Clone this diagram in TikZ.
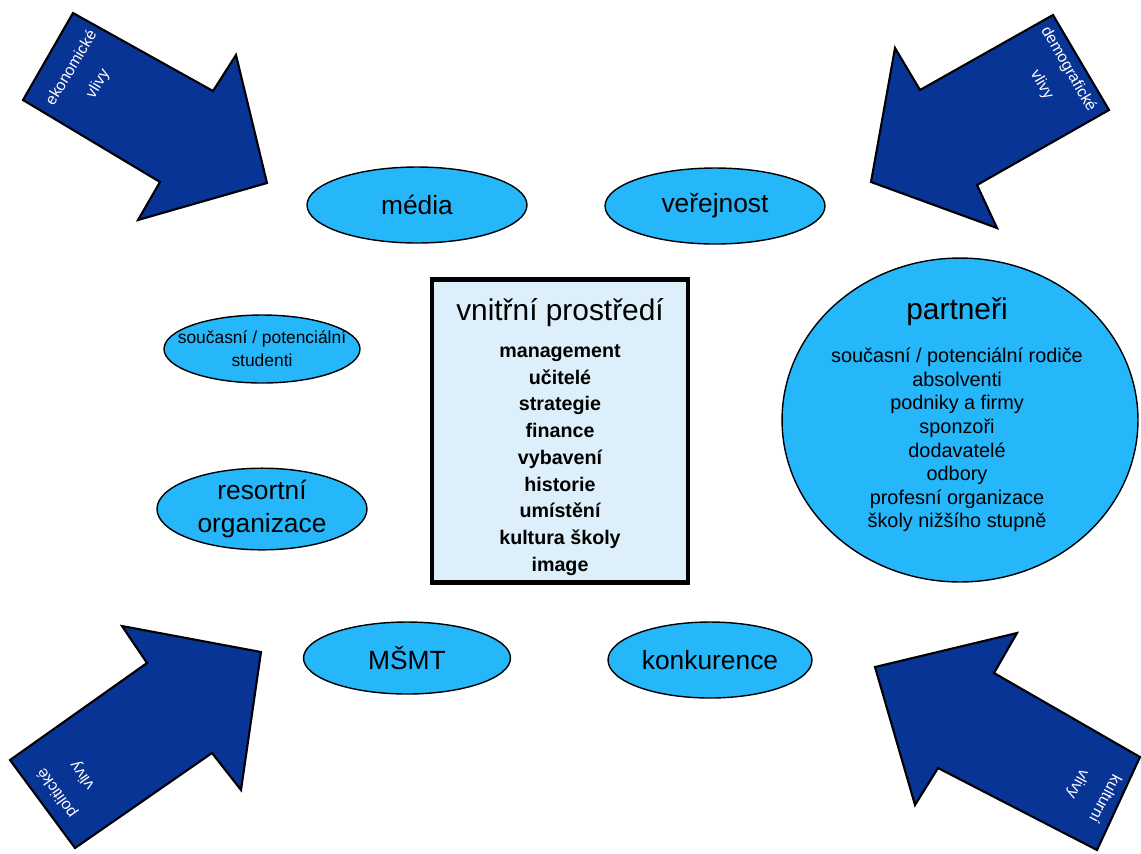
\documentclass[tikz,border=0pt]{standalone}
\usepackage{fontspec}
\setmainfont{Liberation Sans}
\usetikzlibrary{shapes.geometric}

\definecolor{arrowblue}{RGB}{8,52,150}
\definecolor{ovalblue}{RGB}{38,182,250}
\definecolor{boxblue}{RGB}{220,239,250}

\begin{document}
\begin{tikzpicture}[x=0.02cm,y=-0.02cm,
  influence/.style={draw=black,line width=1.2pt,fill=arrowblue,line join=miter},
  influencetext/.style={text=white,align=center,inner sep=0pt,font=\fontsize{9}{17.5}\selectfont},
  actor/.style={ellipse,draw=black,line width=0.8pt,fill=ovalblue,inner sep=0pt,align=center,
    font=\fontsize{15}{18.7}\selectfont},
  innerbox/.style={rectangle,draw=black,line width=2.8pt,fill=boxblue,inner sep=0pt,
    minimum width=5.12cm,minimum height=6.06cm},
  heading/.style={inner sep=0pt,font=\fontsize{17}{20}\selectfont},
  itemlist/.style={inner sep=0pt,align=center}
]
\useasboundingbox (0,0) rectangle (1141,853);

% vnejsi vlivy
\draw[influence] (73,13) -- (213,91) -- (236,55) -- (267,183) -- (138,220) -- (160,182) -- (23,100) -- cycle;
\node[influencetext,rotate=59] (ekonomicke) at (85,76) {ekonomické\\vlivy};

\draw[influence] (1053,15) -- (920,90) -- (895,48) -- (871,182) -- (997,228) -- (977,185) -- (1109,110) -- cycle;
\node[influencetext,rotate=-60] (demograficke) at (1055,77) {demografické\\vlivy};

\draw[influence] (10,760) -- (147,663) -- (122,626) -- (261,652) -- (241,790) -- (212,753) -- (75,848) -- cycle;
\node[influencetext,rotate=125] (politicke) at (70,784) {politické\\vlivy};

\draw[influence] (1140,757) -- (994,673) -- (1017,633) -- (875,667) -- (915,805) -- (938,768) -- (1097,850) -- cycle;
\node[influencetext,rotate=242] (kulturni) at (1091,791) {kulturní\\vlivy};

% aktéri okolo skoly
\node[actor,minimum width=4.4cm,minimum height=1.52cm] (media) at (417,205) {média};
\node[actor,minimum width=4.4cm,minimum height=1.52cm] (verejnost) at (715,206) {veřejnost};
\node[actor,minimum width=3.92cm,minimum height=1.36cm,inner xsep=-9pt,
  font=\fontsize{9.9}{13}\selectfont] (studenti) at (262,349) {současní / potenciální\\studenti};
\node[actor,minimum width=4.2cm,minimum height=1.52cm] (resortni) at (262,509) {resortní\\organizace};
\node[actor,minimum width=4.14cm,minimum height=1.44cm] (msmt) at (407,658) {MŠMT};
\node[actor,minimum width=4.08cm,minimum height=1.52cm] (konkurence) at (710,660) {konkurence};

% vnitrni prostredi
\node[innerbox] (inner) at (560,431) {};
\node[heading] (innertitle) at (560,313) {vnitřní prostředí};
\node[itemlist,font=\bfseries\fontsize{11.2}{15.2}\selectfont] (inneritems) at (560,460)
  {management\\učitelé\\strategie\\finance\\vybavení\\historie\\umístění\\kultura školy\\image};

% partneri
\node[actor,minimum width=7.12cm,minimum height=6.48cm] (partneri) at (960,420) {};
\node[heading] (partnertitle) at (957,312) {partneři};
\node[itemlist,font=\fontsize{11.3}{13.4}\selectfont] (partneritems) at (957,440)
  {současní / potenciální rodiče\\absolventi\\podniky a firmy\\sponzoři\\dodavatelé\\odbory\\profesní organizace\\školy nižšího stupně};
\end{tikzpicture}
\end{document}
